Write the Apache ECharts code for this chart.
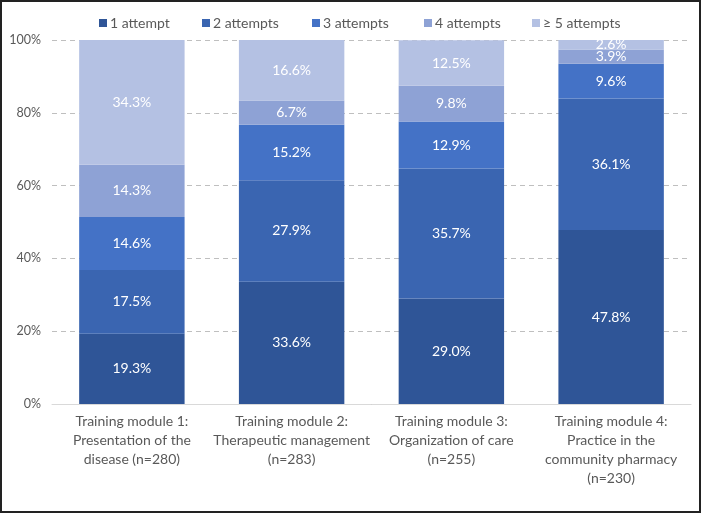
<!DOCTYPE html>
<html>
<head>
<meta charset="utf-8">
<script src="https://cdn.jsdelivr.net/npm/echarts@6/dist/echarts.min.js"></script>
<style>
html,body{margin:0;padding:0;background:#fff;}
#chart{width:701px;height:513px;}
</style>
</head>
<body>
<div id="chart"></div>
<script>
var categories = [
  "Training module 1:\nPresentation of the\ndisease (n=280)",
  "Training module 2:\nTherapeutic management\n(n=283)",
  "Training module 3:\nOrganization of care\n(n=255)",
  "Training module 4:\nPractice in the\ncommunity pharmacy\n(n=230)"
];
var seriesNames = ["1 attempt", "2 attempts", "3 attempts", "4 attempts", "\u2265 5 attempts"];
var attempt1 = [19.3, 33.6, 29.0, 47.8];
var attempt2 = [17.5, 27.9, 35.7, 36.1];
var attempt3 = [14.6, 15.2, 12.9, 9.6];
var attempt4 = [14.3, 6.7, 9.8, 3.9];
var attempt5 = [34.3, 16.6, 12.5, 2.6];
var yTicks = [0, 20, 40, 60, 80, 100];

var colors = ["#2F5597", "#3A65B1", "#4472C6", "#8EA2D5", "#B4C1E3"];
var allData = [attempt1, attempt2, attempt3, attempt4, attempt5];
var FONT = "Lato";
var legendLefts = [99, 202, 312, 424, 532];

var series = allData.map(function (d, i) {
  return {
    name: seriesNames[i],
    type: "bar",
    stack: "total",
    barCategoryGap: "34%",
    data: d,
    itemStyle: { color: colors[i] },
    label: {
      show: true,
      position: "inside",
      color: "#fff",
      fontFamily: FONT,
      fontSize: 14,
      formatter: function (p) { return p.value.toFixed(1) + "%"; }
    }
  };
});

var legends = seriesNames.map(function (n, i) {
  return {
    data: [n],
    top: 16,
    left: legendLefts[i],
    padding: 0,
    itemWidth: 8,
    itemHeight: 8,
    itemGap: 0,
    icon: "rect",
    textStyle: { color: "#595959", fontFamily: FONT, fontSize: 14, padding: [2, 0, 0, -2] }
  };
});

var chart = echarts.init(document.getElementById("chart"), null, { renderer: "canvas" });
chart.setOption({
  animation: false,
  color: colors,
  legend: legends,
  grid: { left: 52, right: 10, top: 40, bottom: 109, containLabel: false },
  xAxis: {
    type: "category",
    data: categories,
    axisLine: { lineStyle: { color: "#D9D9D9", width: 1 } },
    axisTick: { show: false },
    axisLabel: { color: "#595959", fontFamily: FONT, fontSize: 14, lineHeight: 19, margin: 8, interval: 0 }
  },
  yAxis: {
    type: "value",
    min: yTicks[0],
    max: yTicks[yTicks.length - 1],
    interval: 20,
    axisLine: { show: false },
    axisTick: { show: false },
    axisLabel: { color: "#595959", fontFamily: FONT, fontSize: 12.5, margin: 11, formatter: "{value}%" },
    splitLine: { lineStyle: { color: "#BFBFBF", type: [5, 4], width: 1 } }
  },
  graphic: [{
    type: "rect",
    shape: { x: 1, y: 1, width: 699, height: 511 },
    style: { fill: null, stroke: "#222", lineWidth: 2 },
    silent: true,
    z: 100
  }],
  series: series
});
</script>
</body>
</html>
